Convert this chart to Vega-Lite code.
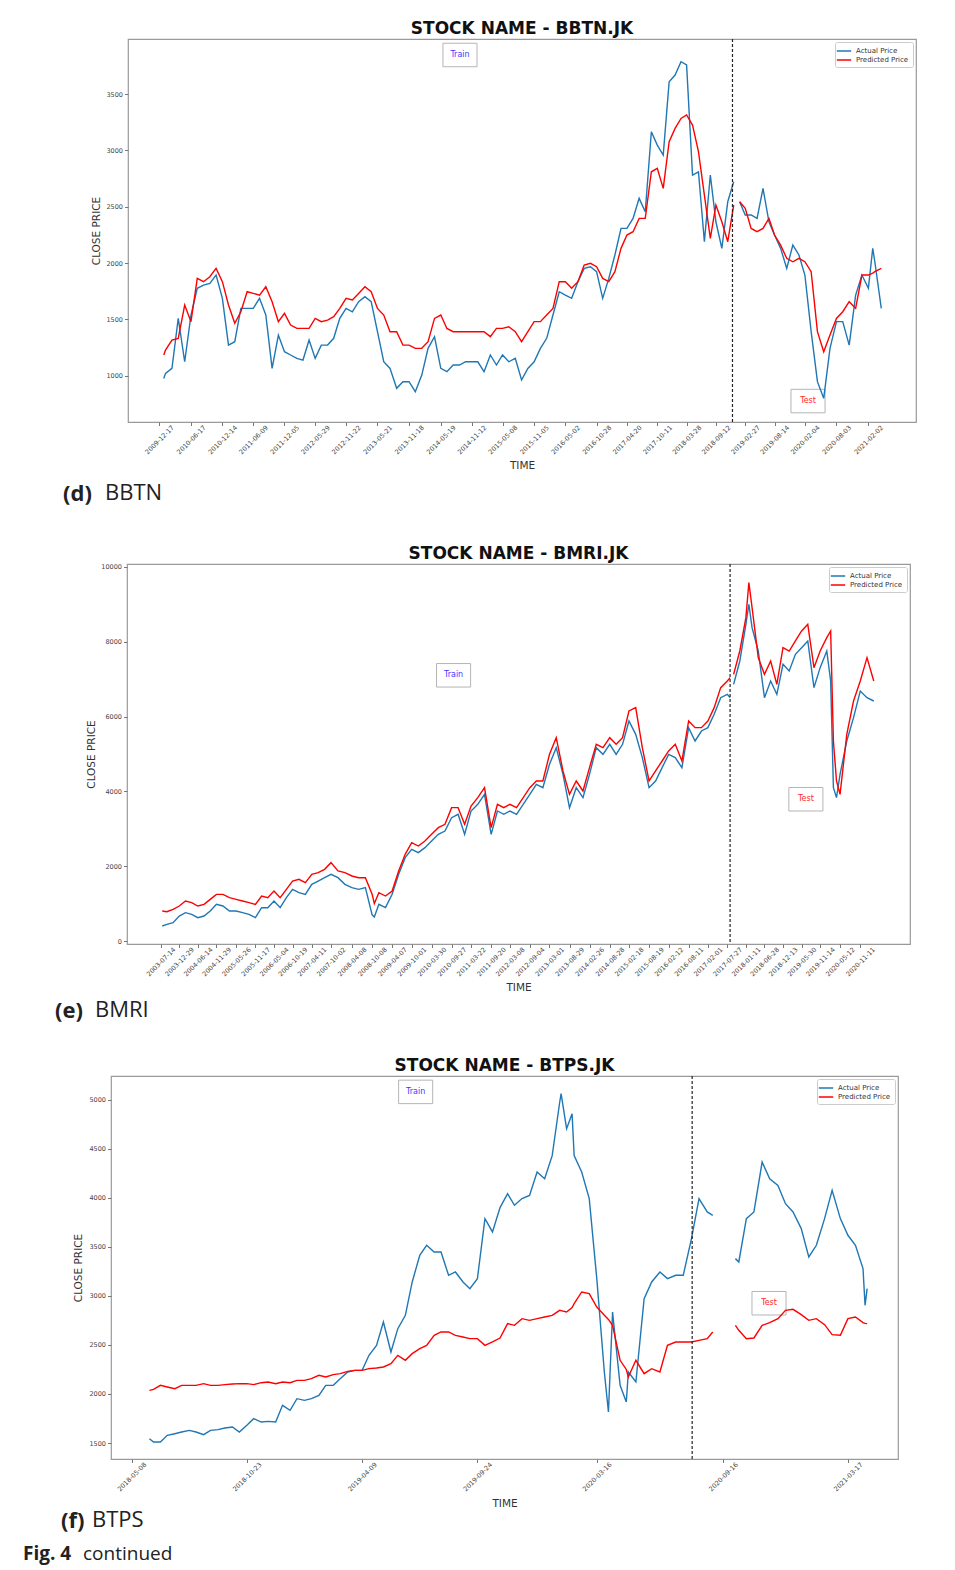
{
"$schema": "https://vega.github.io/schema/vega-lite/v6.json",
"background": "white",
"padding": {"left": 23, "top": 19, "right": 5, "bottom": 3},
"config": {
  "font": "DejaVu Sans",
  "view": {"stroke": "#9a9a9a", "strokeWidth": 1.2},
  "axis": {"labelFontSize": 6.5, "labelColor": "#444", "labelFont": "DejaVu Sans", "tickColor": "#777", "tickSize": 3.5, "domain": false, "grid": false, "titleFontSize": 10.5, "titleFontWeight": "normal", "titleColor": "#333", "titleFont": "DejaVu Sans"},
  "title": {"font": "DejaVu Sans", "fontSize": 17, "fontWeight": "bold", "color": "#111"}
},
"datasets": {
  "notes": [
    {"panel": "d", "label": "Train", "date": "2014-09-06", "price": 3848},
    {"panel": "d", "label": "Test", "date": "2020-02-22", "price": 775},
    {"panel": "e", "label": "Train", "date": "2010-10-15", "price": 7104},
    {"panel": "e", "label": "Test", "date": "2019-07-08", "price": 3790},
    {"panel": "f", "label": "Train", "date": "2019-06-26", "price": 5080},
    {"panel": "f", "label": "Test", "date": "2020-11-22", "price": 2925}
  ],
  "bbtn": [
    {"date":"2010-01-12","seg":1,"Actual Price":976,"Predicted Price":1184},
    {"date":"2010-01-22","seg":1,"Actual Price":1021,"Predicted Price":1228},
    {"date":"2010-02-28","seg":1,"Actual Price":1065,"Predicted Price":1317},
    {"date":"2010-04-05","seg":1,"Actual Price":1509,"Predicted Price":1332},
    {"date":"2010-05-12","seg":1,"Actual Price":1124,"Predicted Price":1628},
    {"date":"2010-06-17","seg":1,"Actual Price":1539,"Predicted Price":1480},
    {"date":"2010-07-23","seg":1,"Actual Price":1776,"Predicted Price":1864},
    {"date":"2010-08-28","seg":1,"Actual Price":1805,"Predicted Price":1835},
    {"date":"2010-10-03","seg":1,"Actual Price":1820,"Predicted Price":1879},
    {"date":"2010-11-08","seg":1,"Actual Price":1894,"Predicted Price":1953},
    {"date":"2010-12-14","seg":1,"Actual Price":1687,"Predicted Price":1835},
    {"date":"2011-01-18","seg":1,"Actual Price":1272,"Predicted Price":1628},
    {"date":"2011-02-23","seg":1,"Actual Price":1302,"Predicted Price":1465},
    {"date":"2011-03-30","seg":1,"Actual Price":1598,"Predicted Price":1568},
    {"date":"2011-05-05","seg":1,"Actual Price":1598,"Predicted Price":1746},
    {"date":"2011-06-09","seg":1,"Actual Price":1598,"Predicted Price":1731},
    {"date":"2011-07-15","seg":1,"Actual Price":1687,"Predicted Price":1716},
    {"date":"2011-08-20","seg":1,"Actual Price":1539,"Predicted Price":1790},
    {"date":"2011-09-25","seg":1,"Actual Price":1065,"Predicted Price":1657},
    {"date":"2011-10-31","seg":1,"Actual Price":1361,"Predicted Price":1480},
    {"date":"2011-12-05","seg":1,"Actual Price":1213,"Predicted Price":1554},
    {"date":"2012-01-09","seg":1,"Actual Price":1184,"Predicted Price":1450},
    {"date":"2012-02-14","seg":1,"Actual Price":1154,"Predicted Price":1420},
    {"date":"2012-03-20","seg":1,"Actual Price":1139,"Predicted Price":1420},
    {"date":"2012-04-24","seg":1,"Actual Price":1317,"Predicted Price":1420},
    {"date":"2012-05-29","seg":1,"Actual Price":1154,"Predicted Price":1509},
    {"date":"2012-07-03","seg":1,"Actual Price":1272,"Predicted Price":1480},
    {"date":"2012-08-08","seg":1,"Actual Price":1272,"Predicted Price":1494},
    {"date":"2012-09-12","seg":1,"Actual Price":1332,"Predicted Price":1524},
    {"date":"2012-10-17","seg":1,"Actual Price":1509,"Predicted Price":1598},
    {"date":"2012-11-22","seg":1,"Actual Price":1598,"Predicted Price":1687},
    {"date":"2012-12-28","seg":1,"Actual Price":1568,"Predicted Price":1672},
    {"date":"2013-02-02","seg":1,"Actual Price":1657,"Predicted Price":1731},
    {"date":"2013-03-10","seg":1,"Actual Price":1702,"Predicted Price":1790},
    {"date":"2013-04-15","seg":1,"Actual Price":1657,"Predicted Price":1746},
    {"date":"2013-05-21","seg":1,"Actual Price":1391,"Predicted Price":1598},
    {"date":"2013-06-26","seg":1,"Actual Price":1124,"Predicted Price":1539},
    {"date":"2013-08-01","seg":1,"Actual Price":1065,"Predicted Price":1391},
    {"date":"2013-09-08","seg":1,"Actual Price":888,"Predicted Price":1391},
    {"date":"2013-10-14","seg":1,"Actual Price":947,"Predicted Price":1272},
    {"date":"2013-11-18","seg":1,"Actual Price":947,"Predicted Price":1272},
    {"date":"2013-12-24","seg":1,"Actual Price":858,"Predicted Price":1243},
    {"date":"2014-01-30","seg":1,"Actual Price":1006,"Predicted Price":1243},
    {"date":"2014-03-07","seg":1,"Actual Price":1243,"Predicted Price":1302},
    {"date":"2014-04-13","seg":1,"Actual Price":1346,"Predicted Price":1509},
    {"date":"2014-05-19","seg":1,"Actual Price":1065,"Predicted Price":1539},
    {"date":"2014-06-23","seg":1,"Actual Price":1036,"Predicted Price":1420},
    {"date":"2014-07-29","seg":1,"Actual Price":1095,"Predicted Price":1391},
    {"date":"2014-09-03","seg":1,"Actual Price":1095,"Predicted Price":1391},
    {"date":"2014-10-08","seg":1,"Actual Price":1124,"Predicted Price":1391},
    {"date":"2014-11-12","seg":1,"Actual Price":1124,"Predicted Price":1391},
    {"date":"2014-12-17","seg":1,"Actual Price":1124,"Predicted Price":1391},
    {"date":"2015-01-22","seg":1,"Actual Price":1036,"Predicted Price":1391},
    {"date":"2015-02-27","seg":1,"Actual Price":1184,"Predicted Price":1347},
    {"date":"2015-04-03","seg":1,"Actual Price":1095,"Predicted Price":1420},
    {"date":"2015-05-08","seg":1,"Actual Price":1184,"Predicted Price":1420},
    {"date":"2015-06-13","seg":1,"Actual Price":1124,"Predicted Price":1435},
    {"date":"2015-07-20","seg":1,"Actual Price":1154,"Predicted Price":1391},
    {"date":"2015-08-25","seg":1,"Actual Price":962,"Predicted Price":1302},
    {"date":"2015-09-30","seg":1,"Actual Price":1065,"Predicted Price":1391},
    {"date":"2015-11-05","seg":1,"Actual Price":1124,"Predicted Price":1480},
    {"date":"2015-12-11","seg":1,"Actual Price":1243,"Predicted Price":1480},
    {"date":"2016-01-16","seg":1,"Actual Price":1332,"Predicted Price":1539},
    {"date":"2016-02-21","seg":1,"Actual Price":1539,"Predicted Price":1598},
    {"date":"2016-03-28","seg":1,"Actual Price":1746,"Predicted Price":1835},
    {"date":"2016-05-02","seg":1,"Actual Price":1716,"Predicted Price":1835},
    {"date":"2016-06-07","seg":1,"Actual Price":1687,"Predicted Price":1776},
    {"date":"2016-07-13","seg":1,"Actual Price":1835,"Predicted Price":1835},
    {"date":"2016-08-18","seg":1,"Actual Price":1953,"Predicted Price":1983},
    {"date":"2016-09-23","seg":1,"Actual Price":1968,"Predicted Price":1998},
    {"date":"2016-10-28","seg":1,"Actual Price":1924,"Predicted Price":1968},
    {"date":"2016-12-02","seg":1,"Actual Price":1687,"Predicted Price":1864},
    {"date":"2017-01-06","seg":1,"Actual Price":1864,"Predicted Price":1835},
    {"date":"2017-02-10","seg":1,"Actual Price":2072,"Predicted Price":1924},
    {"date":"2017-03-17","seg":1,"Actual Price":2308,"Predicted Price":2131},
    {"date":"2017-04-20","seg":1,"Actual Price":2308,"Predicted Price":2249},
    {"date":"2017-05-25","seg":1,"Actual Price":2397,"Predicted Price":2279},
    {"date":"2017-06-29","seg":1,"Actual Price":2575,"Predicted Price":2397},
    {"date":"2017-08-03","seg":1,"Actual Price":2456,"Predicted Price":2397},
    {"date":"2017-09-07","seg":1,"Actual Price":3167,"Predicted Price":2811},
    {"date":"2017-10-11","seg":1,"Actual Price":3048,"Predicted Price":2841},
    {"date":"2017-11-14","seg":1,"Actual Price":2960,"Predicted Price":2664},
    {"date":"2017-12-18","seg":1,"Actual Price":3611,"Predicted Price":3078},
    {"date":"2018-01-21","seg":1,"Actual Price":3670,"Predicted Price":3196},
    {"date":"2018-02-24","seg":1,"Actual Price":3788,"Predicted Price":3285},
    {"date":"2018-03-28","seg":1,"Actual Price":3759,"Predicted Price":3315},
    {"date":"2018-05-01","seg":1,"Actual Price":2782,"Predicted Price":3226},
    {"date":"2018-06-04","seg":1,"Actual Price":2811,"Predicted Price":2990},
    {"date":"2018-07-08","seg":1,"Actual Price":2190,"Predicted Price":2604},
    {"date":"2018-08-11","seg":1,"Actual Price":2782,"Predicted Price":2219},
    {"date":"2018-09-12","seg":1,"Actual Price":2367,"Predicted Price":2515},
    {"date":"2018-10-16","seg":1,"Actual Price":2131,"Predicted Price":2367},
    {"date":"2018-11-19","seg":1,"Actual Price":2545,"Predicted Price":2190},
    {"date":"2018-12-23","seg":1,"Actual Price":2723,"Predicted Price":2515},
    {"date":"2019-01-26","seg":2,"Actual Price":2545,"Predicted Price":2545},
    {"date":"2019-02-27","seg":2,"Actual Price":2427,"Predicted Price":2486},
    {"date":"2019-04-02","seg":2,"Actual Price":2427,"Predicted Price":2308},
    {"date":"2019-05-06","seg":2,"Actual Price":2397,"Predicted Price":2279},
    {"date":"2019-06-09","seg":2,"Actual Price":2664,"Predicted Price":2308},
    {"date":"2019-07-13","seg":2,"Actual Price":2367,"Predicted Price":2397},
    {"date":"2019-08-14","seg":2,"Actual Price":2249,"Predicted Price":2249},
    {"date":"2019-09-18","seg":2,"Actual Price":2131,"Predicted Price":2160},
    {"date":"2019-10-23","seg":2,"Actual Price":1953,"Predicted Price":2042},
    {"date":"2019-11-27","seg":2,"Actual Price":2160,"Predicted Price":2012},
    {"date":"2020-01-01","seg":2,"Actual Price":2072,"Predicted Price":2042},
    {"date":"2020-02-04","seg":2,"Actual Price":1894,"Predicted Price":2012},
    {"date":"2020-03-11","seg":2,"Actual Price":1391,"Predicted Price":1924},
    {"date":"2020-04-16","seg":2,"Actual Price":947,"Predicted Price":1391},
    {"date":"2020-05-22","seg":2,"Actual Price":799,"Predicted Price":1213},
    {"date":"2020-06-27","seg":2,"Actual Price":1243,"Predicted Price":1361},
    {"date":"2020-08-03","seg":2,"Actual Price":1480,"Predicted Price":1509},
    {"date":"2020-09-08","seg":2,"Actual Price":1480,"Predicted Price":1568},
    {"date":"2020-10-15","seg":2,"Actual Price":1272,"Predicted Price":1657},
    {"date":"2020-11-21","seg":2,"Actual Price":1716,"Predicted Price":1598},
    {"date":"2020-12-27","seg":2,"Actual Price":1894,"Predicted Price":1894},
    {"date":"2021-02-02","seg":2,"Actual Price":1776,"Predicted Price":1894},
    {"date":"2021-02-27","seg":2,"Actual Price":2131,"Predicted Price":1910},
    {"date":"2021-03-11","seg":2,"Actual Price":2012,"Predicted Price":1924},
    {"date":"2021-04-17","seg":2,"Actual Price":1598,"Predicted Price":1953}
  ],
  "bmri": [
    {"date":"2003-07-28","seg":1,"Actual Price":401,"Predicted Price":802},
    {"date":"2003-09-08","seg":1,"Actual Price":446,"Predicted Price":784},
    {"date":"2003-11-03","seg":1,"Actual Price":490,"Predicted Price":847},
    {"date":"2003-12-29","seg":1,"Actual Price":668,"Predicted Price":936},
    {"date":"2004-02-23","seg":1,"Actual Price":758,"Predicted Price":1070},
    {"date":"2004-04-19","seg":1,"Actual Price":713,"Predicted Price":1025},
    {"date":"2004-06-14","seg":1,"Actual Price":624,"Predicted Price":936},
    {"date":"2004-08-09","seg":1,"Actual Price":668,"Predicted Price":980},
    {"date":"2004-10-04","seg":1,"Actual Price":802,"Predicted Price":1114},
    {"date":"2004-11-29","seg":1,"Actual Price":980,"Predicted Price":1248},
    {"date":"2005-01-27","seg":1,"Actual Price":936,"Predicted Price":1248},
    {"date":"2005-03-27","seg":1,"Actual Price":802,"Predicted Price":1159},
    {"date":"2005-05-26","seg":1,"Actual Price":802,"Predicted Price":1114},
    {"date":"2005-07-24","seg":1,"Actual Price":758,"Predicted Price":1070},
    {"date":"2005-09-20","seg":1,"Actual Price":713,"Predicted Price":1025},
    {"date":"2005-11-17","seg":1,"Actual Price":624,"Predicted Price":980},
    {"date":"2006-01-12","seg":1,"Actual Price":891,"Predicted Price":1203},
    {"date":"2006-03-09","seg":1,"Actual Price":891,"Predicted Price":1159},
    {"date":"2006-05-04","seg":1,"Actual Price":1070,"Predicted Price":1337},
    {"date":"2006-06-29","seg":1,"Actual Price":891,"Predicted Price":1159},
    {"date":"2006-08-24","seg":1,"Actual Price":1159,"Predicted Price":1381},
    {"date":"2006-10-19","seg":1,"Actual Price":1381,"Predicted Price":1604},
    {"date":"2006-12-16","seg":1,"Actual Price":1292,"Predicted Price":1649},
    {"date":"2007-02-12","seg":1,"Actual Price":1248,"Predicted Price":1560},
    {"date":"2007-04-11","seg":1,"Actual Price":1515,"Predicted Price":1783},
    {"date":"2007-06-08","seg":1,"Actual Price":1604,"Predicted Price":1827},
    {"date":"2007-08-05","seg":1,"Actual Price":1693,"Predicted Price":1916},
    {"date":"2007-10-02","seg":1,"Actual Price":1783,"Predicted Price":2095},
    {"date":"2007-12-04","seg":1,"Actual Price":1693,"Predicted Price":1872},
    {"date":"2008-02-05","seg":1,"Actual Price":1515,"Predicted Price":1827},
    {"date":"2008-04-08","seg":1,"Actual Price":1426,"Predicted Price":1738},
    {"date":"2008-06-08","seg":1,"Actual Price":1381,"Predicted Price":1693},
    {"date":"2008-08-08","seg":1,"Actual Price":1426,"Predicted Price":1693},
    {"date":"2008-10-08","seg":1,"Actual Price":700,"Predicted Price":1250},
    {"date":"2008-10-28","seg":1,"Actual Price":640,"Predicted Price":1000},
    {"date":"2008-12-08","seg":1,"Actual Price":980,"Predicted Price":1292},
    {"date":"2009-02-06","seg":1,"Actual Price":891,"Predicted Price":1203},
    {"date":"2009-04-07","seg":1,"Actual Price":1248,"Predicted Price":1337},
    {"date":"2009-06-05","seg":1,"Actual Price":1783,"Predicted Price":1872},
    {"date":"2009-08-03","seg":1,"Actual Price":2228,"Predicted Price":2318},
    {"date":"2009-10-01","seg":1,"Actual Price":2451,"Predicted Price":2629},
    {"date":"2009-11-30","seg":1,"Actual Price":2362,"Predicted Price":2540},
    {"date":"2010-01-29","seg":1,"Actual Price":2496,"Predicted Price":2674},
    {"date":"2010-03-30","seg":1,"Actual Price":2674,"Predicted Price":2852},
    {"date":"2010-05-30","seg":1,"Actual Price":2852,"Predicted Price":3030},
    {"date":"2010-07-29","seg":1,"Actual Price":2941,"Predicted Price":3120},
    {"date":"2010-09-27","seg":1,"Actual Price":3298,"Predicted Price":3565},
    {"date":"2010-11-25","seg":1,"Actual Price":3387,"Predicted Price":3565},
    {"date":"2011-01-23","seg":1,"Actual Price":2852,"Predicted Price":3120},
    {"date":"2011-03-22","seg":1,"Actual Price":3476,"Predicted Price":3610},
    {"date":"2011-05-22","seg":1,"Actual Price":3654,"Predicted Price":3833},
    {"date":"2011-07-22","seg":1,"Actual Price":3922,"Predicted Price":4100},
    {"date":"2011-09-20","seg":1,"Actual Price":2852,"Predicted Price":3030},
    {"date":"2011-11-16","seg":1,"Actual Price":3476,"Predicted Price":3654},
    {"date":"2012-01-12","seg":1,"Actual Price":3387,"Predicted Price":3565},
    {"date":"2012-03-08","seg":1,"Actual Price":3476,"Predicted Price":3654},
    {"date":"2012-05-07","seg":1,"Actual Price":3387,"Predicted Price":3565},
    {"date":"2012-07-06","seg":1,"Actual Price":3654,"Predicted Price":3833},
    {"date":"2012-09-04","seg":1,"Actual Price":3922,"Predicted Price":4100},
    {"date":"2012-11-02","seg":1,"Actual Price":4189,"Predicted Price":4278},
    {"date":"2012-12-31","seg":1,"Actual Price":4100,"Predicted Price":4278},
    {"date":"2013-03-01","seg":1,"Actual Price":4724,"Predicted Price":4991},
    {"date":"2013-05-01","seg":1,"Actual Price":5170,"Predicted Price":5437},
    {"date":"2013-07-01","seg":1,"Actual Price":4456,"Predicted Price":4546},
    {"date":"2013-08-29","seg":1,"Actual Price":3565,"Predicted Price":3922},
    {"date":"2013-10-29","seg":1,"Actual Price":4100,"Predicted Price":4278},
    {"date":"2013-12-29","seg":1,"Actual Price":3833,"Predicted Price":4011},
    {"date":"2014-02-26","seg":1,"Actual Price":4456,"Predicted Price":4635},
    {"date":"2014-04-28","seg":1,"Actual Price":5170,"Predicted Price":5259},
    {"date":"2014-06-28","seg":1,"Actual Price":4991,"Predicted Price":5170},
    {"date":"2014-08-28","seg":1,"Actual Price":5259,"Predicted Price":5437},
    {"date":"2014-10-25","seg":1,"Actual Price":4991,"Predicted Price":5259},
    {"date":"2014-12-22","seg":1,"Actual Price":5259,"Predicted Price":5437},
    {"date":"2015-02-18","seg":1,"Actual Price":5883,"Predicted Price":6150},
    {"date":"2015-04-20","seg":1,"Actual Price":5526,"Predicted Price":6239},
    {"date":"2015-06-19","seg":1,"Actual Price":4902,"Predicted Price":5170},
    {"date":"2015-08-19","seg":1,"Actual Price":4100,"Predicted Price":4278},
    {"date":"2015-10-17","seg":1,"Actual Price":4278,"Predicted Price":4546},
    {"date":"2015-12-15","seg":1,"Actual Price":4635,"Predicted Price":4813},
    {"date":"2016-02-12","seg":1,"Actual Price":4991,"Predicted Price":5081},
    {"date":"2016-04-12","seg":1,"Actual Price":4902,"Predicted Price":5259},
    {"date":"2016-06-11","seg":1,"Actual Price":4635,"Predicted Price":4813},
    {"date":"2016-08-11","seg":1,"Actual Price":5704,"Predicted Price":5883},
    {"date":"2016-10-08","seg":1,"Actual Price":5348,"Predicted Price":5704},
    {"date":"2016-12-05","seg":1,"Actual Price":5615,"Predicted Price":5704},
    {"date":"2017-02-01","seg":1,"Actual Price":5704,"Predicted Price":5883},
    {"date":"2017-03-30","seg":1,"Actual Price":6061,"Predicted Price":6239},
    {"date":"2017-05-28","seg":1,"Actual Price":6506,"Predicted Price":6774},
    {"date":"2017-07-27","seg":1,"Actual Price":6595,"Predicted Price":6952},
    {"date":"2017-08-21","seg":1,"Actual Price":6506,"Predicted Price":7041},
    {"date":"2017-09-22","seg":2,"Actual Price":6863,"Predicted Price":7130},
    {"date":"2017-11-17","seg":2,"Actual Price":7487,"Predicted Price":7754},
    {"date":"2018-01-11","seg":2,"Actual Price":8467,"Predicted Price":8645},
    {"date":"2018-02-07","seg":2,"Actual Price":9004,"Predicted Price":9582},
    {"date":"2018-03-08","seg":2,"Actual Price":8378,"Predicted Price":8913},
    {"date":"2018-05-03","seg":2,"Actual Price":7754,"Predicted Price":7576},
    {"date":"2018-06-28","seg":2,"Actual Price":6506,"Predicted Price":7130},
    {"date":"2018-08-23","seg":2,"Actual Price":6952,"Predicted Price":7487},
    {"date":"2018-10-18","seg":2,"Actual Price":6595,"Predicted Price":6863},
    {"date":"2018-12-13","seg":2,"Actual Price":7398,"Predicted Price":7843},
    {"date":"2019-02-07","seg":2,"Actual Price":7220,"Predicted Price":7754},
    {"date":"2019-04-04","seg":2,"Actual Price":7665,"Predicted Price":8022},
    {"date":"2019-05-30","seg":2,"Actual Price":7843,"Predicted Price":8289},
    {"date":"2019-07-25","seg":2,"Actual Price":8022,"Predicted Price":8467},
    {"date":"2019-09-19","seg":2,"Actual Price":6774,"Predicted Price":7309},
    {"date":"2019-11-14","seg":2,"Actual Price":7309,"Predicted Price":7754},
    {"date":"2020-01-13","seg":2,"Actual Price":7754,"Predicted Price":8111},
    {"date":"2020-02-17","seg":2,"Actual Price":6952,"Predicted Price":8289},
    {"date":"2020-03-13","seg":2,"Actual Price":4100,"Predicted Price":5348},
    {"date":"2020-04-10","seg":2,"Actual Price":3833,"Predicted Price":4278},
    {"date":"2020-05-12","seg":2,"Actual Price":4456,"Predicted Price":3922},
    {"date":"2020-07-12","seg":2,"Actual Price":5348,"Predicted Price":5526},
    {"date":"2020-09-11","seg":2,"Actual Price":5972,"Predicted Price":6417},
    {"date":"2020-11-11","seg":2,"Actual Price":6684,"Predicted Price":6952},
    {"date":"2021-01-11","seg":2,"Actual Price":6506,"Predicted Price":7576},
    {"date":"2021-03-13","seg":2,"Actual Price":6417,"Predicted Price":6952}
  ],
  "btps": [
    {"date":"2018-06-03","seg":1,"Actual Price":1544,"Predicted Price":2037},
    {"date":"2018-06-09","seg":1,"Actual Price":1510,"Predicted Price":2047},
    {"date":"2018-06-19","seg":1,"Actual Price":1510,"Predicted Price":2088},
    {"date":"2018-06-29","seg":1,"Actual Price":1578,"Predicted Price":2071},
    {"date":"2018-07-10","seg":1,"Actual Price":1595,"Predicted Price":2054},
    {"date":"2018-07-20","seg":1,"Actual Price":1612,"Predicted Price":2088},
    {"date":"2018-07-31","seg":1,"Actual Price":1629,"Predicted Price":2088},
    {"date":"2018-08-10","seg":1,"Actual Price":1612,"Predicted Price":2088},
    {"date":"2018-08-21","seg":1,"Actual Price":1585,"Predicted Price":2105},
    {"date":"2018-08-31","seg":1,"Actual Price":1629,"Predicted Price":2088},
    {"date":"2018-09-11","seg":1,"Actual Price":1636,"Predicted Price":2088},
    {"date":"2018-09-21","seg":1,"Actual Price":1653,"Predicted Price":2095},
    {"date":"2018-10-02","seg":1,"Actual Price":1663,"Predicted Price":2102},
    {"date":"2018-10-12","seg":1,"Actual Price":1612,"Predicted Price":2105},
    {"date":"2018-10-23","seg":1,"Actual Price":1680,"Predicted Price":2105},
    {"date":"2018-11-02","seg":1,"Actual Price":1748,"Predicted Price":2095},
    {"date":"2018-11-13","seg":1,"Actual Price":1714,"Predicted Price":2115},
    {"date":"2018-11-23","seg":1,"Actual Price":1721,"Predicted Price":2122},
    {"date":"2018-12-04","seg":1,"Actual Price":1714,"Predicted Price":2105},
    {"date":"2018-12-14","seg":1,"Actual Price":1884,"Predicted Price":2122},
    {"date":"2018-12-25","seg":1,"Actual Price":1833,"Predicted Price":2115},
    {"date":"2019-01-04","seg":1,"Actual Price":1952,"Predicted Price":2139},
    {"date":"2019-01-15","seg":1,"Actual Price":1935,"Predicted Price":2139},
    {"date":"2019-01-25","seg":1,"Actual Price":1952,"Predicted Price":2156},
    {"date":"2019-02-05","seg":1,"Actual Price":1986,"Predicted Price":2190},
    {"date":"2019-02-15","seg":1,"Actual Price":2088,"Predicted Price":2173},
    {"date":"2019-02-26","seg":1,"Actual Price":2088,"Predicted Price":2197},
    {"date":"2019-03-08","seg":1,"Actual Price":2156,"Predicted Price":2207},
    {"date":"2019-03-19","seg":1,"Actual Price":2224,"Predicted Price":2231},
    {"date":"2019-03-29","seg":1,"Actual Price":2241,"Predicted Price":2241},
    {"date":"2019-04-09","seg":1,"Actual Price":2241,"Predicted Price":2241},
    {"date":"2019-04-19","seg":1,"Actual Price":2394,"Predicted Price":2258},
    {"date":"2019-04-30","seg":1,"Actual Price":2496,"Predicted Price":2265},
    {"date":"2019-05-10","seg":1,"Actual Price":2734,"Predicted Price":2275},
    {"date":"2019-05-21","seg":1,"Actual Price":2428,"Predicted Price":2309},
    {"date":"2019-05-31","seg":1,"Actual Price":2666,"Predicted Price":2394},
    {"date":"2019-06-11","seg":1,"Actual Price":2802,"Predicted Price":2343},
    {"date":"2019-06-21","seg":1,"Actual Price":3142,"Predicted Price":2411},
    {"date":"2019-07-02","seg":1,"Actual Price":3414,"Predicted Price":2462},
    {"date":"2019-07-12","seg":1,"Actual Price":3516,"Predicted Price":2496},
    {"date":"2019-07-23","seg":1,"Actual Price":3448,"Predicted Price":2598},
    {"date":"2019-08-02","seg":1,"Actual Price":3448,"Predicted Price":2632},
    {"date":"2019-08-13","seg":1,"Actual Price":3210,"Predicted Price":2632},
    {"date":"2019-08-23","seg":1,"Actual Price":3244,"Predicted Price":2598},
    {"date":"2019-09-03","seg":1,"Actual Price":3142,"Predicted Price":2581},
    {"date":"2019-09-13","seg":1,"Actual Price":3074,"Predicted Price":2564},
    {"date":"2019-09-24","seg":1,"Actual Price":3176,"Predicted Price":2564},
    {"date":"2019-10-05","seg":1,"Actual Price":3787,"Predicted Price":2496},
    {"date":"2019-10-16","seg":1,"Actual Price":3652,"Predicted Price":2530},
    {"date":"2019-10-27","seg":1,"Actual Price":3900,"Predicted Price":2570},
    {"date":"2019-11-07","seg":1,"Actual Price":4042,"Predicted Price":2717},
    {"date":"2019-11-17","seg":1,"Actual Price":3924,"Predicted Price":2700},
    {"date":"2019-11-28","seg":1,"Actual Price":3992,"Predicted Price":2768},
    {"date":"2019-12-09","seg":1,"Actual Price":4025,"Predicted Price":2751},
    {"date":"2019-12-20","seg":1,"Actual Price":4263,"Predicted Price":2768},
    {"date":"2019-12-31","seg":1,"Actual Price":4195,"Predicted Price":2785},
    {"date":"2020-01-11","seg":1,"Actual Price":4430,"Predicted Price":2802},
    {"date":"2020-01-22","seg":1,"Actual Price":4977,"Predicted Price":2853},
    {"date":"2020-01-24","seg":1,"Actual Price":5062,"Predicted Price":2850},
    {"date":"2020-02-01","seg":1,"Actual Price":4705,"Predicted Price":2836},
    {"date":"2020-02-09","seg":1,"Actual Price":4858,"Predicted Price":2880},
    {"date":"2020-02-12","seg":1,"Actual Price":4430,"Predicted Price":2921},
    {"date":"2020-02-23","seg":1,"Actual Price":4263,"Predicted Price":3040},
    {"date":"2020-03-05","seg":1,"Actual Price":3992,"Predicted Price":3023},
    {"date":"2020-03-16","seg":1,"Actual Price":3176,"Predicted Price":2887},
    {"date":"2020-03-27","seg":1,"Actual Price":2224,"Predicted Price":2802},
    {"date":"2020-04-02","seg":1,"Actual Price":1816,"Predicted Price":2760},
    {"date":"2020-04-08","seg":1,"Actual Price":2836,"Predicted Price":2700},
    {"date":"2020-04-19","seg":1,"Actual Price":2088,"Predicted Price":2343},
    {"date":"2020-04-28","seg":1,"Actual Price":1918,"Predicted Price":2250},
    {"date":"2020-05-01","seg":1,"Actual Price":2224,"Predicted Price":2173},
    {"date":"2020-05-12","seg":1,"Actual Price":2122,"Predicted Price":2343},
    {"date":"2020-05-24","seg":1,"Actual Price":2972,"Predicted Price":2207},
    {"date":"2020-06-04","seg":1,"Actual Price":3142,"Predicted Price":2258},
    {"date":"2020-06-16","seg":1,"Actual Price":3244,"Predicted Price":2224},
    {"date":"2020-06-27","seg":1,"Actual Price":3176,"Predicted Price":2496},
    {"date":"2020-07-09","seg":1,"Actual Price":3210,"Predicted Price":2530},
    {"date":"2020-07-20","seg":1,"Actual Price":3210,"Predicted Price":2530},
    {"date":"2020-08-01","seg":1,"Actual Price":3584,"Predicted Price":2530},
    {"date":"2020-08-12","seg":1,"Actual Price":3991,"Predicted Price":2547},
    {"date":"2020-08-24","seg":1,"Actual Price":3856,"Predicted Price":2564},
    {"date":"2020-09-01","seg":1,"Actual Price":3821,"Predicted Price":2632},
    {"date":"2020-10-04","seg":2,"Actual Price":3380,"Predicted Price":2700},
    {"date":"2020-10-09","seg":2,"Actual Price":3346,"Predicted Price":2649},
    {"date":"2020-10-20","seg":2,"Actual Price":3788,"Predicted Price":2564},
    {"date":"2020-10-31","seg":2,"Actual Price":3856,"Predicted Price":2571},
    {"date":"2020-11-12","seg":2,"Actual Price":4365,"Predicted Price":2700},
    {"date":"2020-11-23","seg":2,"Actual Price":4195,"Predicted Price":2727},
    {"date":"2020-12-05","seg":2,"Actual Price":4127,"Predicted Price":2768},
    {"date":"2020-12-16","seg":2,"Actual Price":3940,"Predicted Price":2853},
    {"date":"2020-12-27","seg":2,"Actual Price":3856,"Predicted Price":2863},
    {"date":"2021-01-08","seg":2,"Actual Price":3686,"Predicted Price":2809},
    {"date":"2021-01-19","seg":2,"Actual Price":3397,"Predicted Price":2751},
    {"date":"2021-01-30","seg":2,"Actual Price":3516,"Predicted Price":2768},
    {"date":"2021-02-11","seg":2,"Actual Price":3788,"Predicted Price":2707},
    {"date":"2021-02-22","seg":2,"Actual Price":4076,"Predicted Price":2605},
    {"date":"2021-03-06","seg":2,"Actual Price":3788,"Predicted Price":2598},
    {"date":"2021-03-17","seg":2,"Actual Price":3618,"Predicted Price":2768},
    {"date":"2021-03-28","seg":2,"Actual Price":3516,"Predicted Price":2785},
    {"date":"2021-04-08","seg":2,"Actual Price":3278,"Predicted Price":2727},
    {"date":"2021-04-11","seg":2,"Actual Price":2904,"Predicted Price":2720},
    {"date":"2021-04-14","seg":2,"Actual Price":3074,"Predicted Price":2717}
  ]
},
"title": {"text": "continued", "orient": "bottom", "anchor": "start", "font": "Open Sans", "fontSize": 19, "fontWeight": "normal", "color": "#222", "offset": 0, "dx": 60, "dy": -19},
"resolve": {"scale": {"color": "independent"}, "legend": {"color": "independent"}},
"vconcat": [{
  "title": {"text": "Fig. 4", "orient": "bottom", "anchor": "start", "font": "Open Sans", "fontSize": 19, "fontWeight": "bold", "color": "#222", "offset": 13, "dx": -32},
  "spacing": 33,
  "resolve": {"scale": {"color": "independent"}, "legend": {"color": "independent"}},
  "vconcat": [
    {
      "title": {"text": ["BBTN", ""], "lineHeight": 6, "orient": "bottom", "anchor": "start", "font": "Open Sans", "fontSize": 22, "fontWeight": "normal", "color": "#222", "offset": 0, "dx": 42, "dy": -22},
      "resolve": {"scale": {"color": "independent"}, "legend": {"color": "independent"}},
      "vconcat": [{
        "title": {"text": "(d)", "orient": "bottom", "anchor": "start", "font": "Open Sans", "fontSize": 22, "fontWeight": "bold", "color": "#222", "offset": 13, "dx": -8},
        "resolve": {"scale": {"color": "independent"}, "legend": {"color": "independent"}},
        "spacing": 0,
        "hconcat": [
          {"width": 19, "height": 10, "data": {"values": []}, "mark": "point", "view": {"stroke": null}},
          {
          "width": 788, "height": 383,
          "title": {"text": "STOCK NAME - BBTN.JK", "frame": "group", "offset": 0},
          "encoding": {"x": {"field": "date", "type": "temporal", "scale": {"type": "utc", "domain": ["2009-06-21", "2021-11-02"]},
            "axis": {"values": ["2009-12-17","2010-06-17","2010-12-14","2011-06-09","2011-12-05","2012-05-29","2012-11-22","2013-05-21","2013-11-18","2014-05-19","2014-11-12","2015-05-08","2015-11-05","2016-05-02","2016-10-28","2017-04-20","2017-10-11","2018-03-28","2018-09-12","2019-02-27","2019-08-14","2020-02-04","2020-08-03","2021-02-02"],
              "format": "%Y-%m-%d", "labelAngle": -45, "labelAlign": "center", "labelBaseline": "middle", "labelPadding": 14, "labelOverlap": false, "labelFlush": false, "title": "TIME", "titlePadding": 5}}},
          "layer": [
            {"data": {"name": "notes"}, "transform": [{"filter": "datum.panel == 'd'"}],
             "mark": {"type": "point", "shape": "M-1.45,-1H1.45V1H-1.45Z", "size": 552, "filled": false, "color": "#b5b5b5", "strokeWidth": 1, "opacity": 1},
             "encoding": {"y": {"field": "price", "type": "quantitative", "scale": {"domain": [589, 3990], "nice": false, "zero": false},
               "axis": {"values": [1000, 1500, 2000, 2500, 3000, 3500], "format": "d", "title": "CLOSE PRICE", "titlePadding": 6, "minExtent": 21, "maxExtent": 21, "labelPadding": 2}}}},
            {"data": {"name": "bbtn"}, "transform": [{"fold": ["Actual Price", "Predicted Price"], "as": ["series", "price"]}],
             "mark": {"type": "line", "strokeWidth": 1.4},
             "encoding": {
               "y": {"field": "price", "type": "quantitative", "scale": {"domain": [589, 3990], "nice": false, "zero": false},
                 "axis": {"values": [1000, 1500, 2000, 2500, 3000, 3500], "format": "d", "title": "CLOSE PRICE", "titlePadding": 6, "minExtent": 21, "maxExtent": 21, "labelPadding": 2}},
               "color": {"field": "series", "type": "nominal", "scale": {"domain": ["Actual Price", "Predicted Price"], "range": ["#1f77b4", "#ff0000"]},
                 "legend": {"orient": "top-right", "offset": 3, "title": null, "labelFontSize": 7, "labelFont": "DejaVu Sans", "labelColor": "#333", "symbolType": "M-1.8,0H1.8", "symbolSize": 64, "symbolStrokeWidth": 1.5, "strokeColor": "#cccccc", "fillColor": "white", "padding": 4, "rowPadding": 1, "cornerRadius": 2, "labelOffset": 7}},
               "detail": {"field": "seg", "type": "nominal"}}},
            {"data": {"values": [{"date": "2018-12-16"}]}, "mark": {"type": "rule", "color": "#222", "strokeDash": [3, 2], "strokeWidth": 1.2}, "encoding": {}},
            {"data": {"name": "notes"}, "transform": [{"filter": "datum.panel == 'd'"}],
             "mark": {"type": "text", "fontSize": 8, "font": "DejaVu Sans"},
             "encoding": {"y": {"field": "price", "type": "quantitative", "scale": {"domain": [589, 3990], "nice": false, "zero": false},
               "axis": {"values": [1000, 1500, 2000, 2500, 3000, 3500], "format": "d", "title": "CLOSE PRICE", "titlePadding": 6, "minExtent": 21, "maxExtent": 21, "labelPadding": 2}},
               "text": {"field": "label"},
               "fill": {"field": "label", "type": "nominal", "scale": {"domain": ["Train", "Test"], "range": ["#3b3bff", "#ff2a2a"]}, "legend": null}}}
          ]
        }]
      }]
    },
    {
      "title": {"text": "BMRI", "orient": "bottom", "anchor": "start", "font": "Open Sans", "fontSize": 22, "fontWeight": "normal", "color": "#222", "offset": 0, "dx": 40, "dy": -22},
      "resolve": {"scale": {"color": "independent"}, "legend": {"color": "independent"}},
      "vconcat": [{
        "title": {"text": "(e)", "orient": "bottom", "anchor": "start", "font": "Open Sans", "fontSize": 22, "fontWeight": "bold", "color": "#222", "offset": 8, "dx": -16},
        "resolve": {"scale": {"color": "independent"}, "legend": {"color": "independent"}},
        "spacing": 0,
        "hconcat": [
          {"width": 14, "height": 10, "data": {"values": []}, "mark": "point", "view": {"stroke": null}},
          {
          "width": 783, "height": 380,
          "title": {"text": "STOCK NAME - BMRI.JK", "frame": "group", "offset": 0},
          "encoding": {"x": {"field": "date", "type": "temporal", "scale": {"type": "utc", "domain": ["2002-09-12", "2022-02-04"]},
            "axis": {"values": ["2003-07-14","2003-12-29","2004-06-14","2004-11-29","2005-05-26","2005-11-17","2006-05-04","2006-10-19","2007-04-11","2007-10-02","2008-04-08","2008-10-08","2009-04-07","2009-10-01","2010-03-30","2010-09-27","2011-03-22","2011-09-20","2012-03-08","2012-09-04","2013-03-01","2013-08-29","2014-02-26","2014-08-28","2015-02-18","2015-08-19","2016-02-12","2016-08-11","2017-02-01","2017-07-27","2018-01-11","2018-06-28","2018-12-13","2019-05-30","2019-11-14","2020-05-12","2020-11-11"],
              "format": "%Y-%m-%d", "labelAngle": -45, "labelAlign": "center", "labelBaseline": "middle", "labelPadding": 14, "labelOverlap": false, "labelFlush": false, "title": "TIME", "titlePadding": 5}}},
          "layer": [
            {"data": {"name": "notes"}, "transform": [{"filter": "datum.panel == 'e'"}],
             "mark": {"type": "point", "shape": "M-1.45,-1H1.45V1H-1.45Z", "size": 552, "filled": false, "color": "#b5b5b5", "strokeWidth": 1, "opacity": 1},
             "encoding": {"y": {"field": "price", "type": "quantitative", "scale": {"domain": [-80, 10080], "nice": false, "zero": false},
               "axis": {"values": [0, 2000, 4000, 6000, 8000, 10000], "format": "d", "title": "CLOSE PRICE", "titlePadding": 3, "minExtent": 28, "maxExtent": 28, "labelPadding": 2}}}},
            {"data": {"name": "bmri"}, "transform": [{"fold": ["Actual Price", "Predicted Price"], "as": ["series", "price"]}],
             "mark": {"type": "line", "strokeWidth": 1.4},
             "encoding": {
               "y": {"field": "price", "type": "quantitative", "scale": {"domain": [-80, 10080], "nice": false, "zero": false},
                 "axis": {"values": [0, 2000, 4000, 6000, 8000, 10000], "format": "d", "title": "CLOSE PRICE", "titlePadding": 3, "minExtent": 28, "maxExtent": 28, "labelPadding": 2}},
               "color": {"field": "series", "type": "nominal", "scale": {"domain": ["Actual Price", "Predicted Price"], "range": ["#1f77b4", "#ff0000"]},
                 "legend": {"orient": "top-right", "offset": 3, "title": null, "labelFontSize": 7, "labelFont": "DejaVu Sans", "labelColor": "#333", "symbolType": "M-1.8,0H1.8", "symbolSize": 64, "symbolStrokeWidth": 1.5, "strokeColor": "#cccccc", "fillColor": "white", "padding": 4, "rowPadding": 1, "cornerRadius": 2, "labelOffset": 7}},
               "detail": {"field": "seg", "type": "nominal"}}},
            {"data": {"values": [{"date": "2017-08-21"}]}, "mark": {"type": "rule", "color": "#222", "strokeDash": [3, 2], "strokeWidth": 1.2}, "encoding": {}},
            {"data": {"name": "notes"}, "transform": [{"filter": "datum.panel == 'e'"}],
             "mark": {"type": "text", "fontSize": 8, "font": "DejaVu Sans"},
             "encoding": {"y": {"field": "price", "type": "quantitative", "scale": {"domain": [-80, 10080], "nice": false, "zero": false},
               "axis": {"values": [0, 2000, 4000, 6000, 8000, 10000], "format": "d", "title": "CLOSE PRICE", "titlePadding": 3, "minExtent": 28, "maxExtent": 28, "labelPadding": 2}},
               "text": {"field": "label"},
               "fill": {"field": "label", "type": "nominal", "scale": {"domain": ["Train", "Test"], "range": ["#3b3bff", "#ff2a2a"]}, "legend": null}}}
          ]
        }]
      }]
    },
    {
      "title": {"text": "BTPS", "orient": "bottom", "anchor": "start", "font": "Open Sans", "fontSize": 22, "fontWeight": "normal", "color": "#222", "offset": 0, "dx": 31, "dy": -22},
      "resolve": {"scale": {"color": "independent"}, "legend": {"color": "independent"}},
      "vconcat": [{
        "title": {"text": "(f)", "orient": "bottom", "anchor": "start", "font": "Open Sans", "fontSize": 22, "fontWeight": "bold", "color": "#222", "offset": 2, "dx": -10},
        "resolve": {"scale": {"color": "independent"}, "legend": {"color": "independent"}},
        "spacing": 0,
        "hconcat": [
          {"width": 1, "height": 10, "data": {"values": []}, "mark": "point", "view": {"stroke": null}},
          {
          "width": 787, "height": 383,
          "title": {"text": "STOCK NAME - BTPS.JK", "frame": "group", "offset": 0},
          "encoding": {"x": {"field": "date", "type": "temporal", "scale": {"type": "utc", "domain": ["2018-04-08", "2021-05-29"]},
            "axis": {"values": ["2018-05-08","2018-10-23","2019-04-09","2019-09-24","2020-03-16","2020-09-16","2021-03-17"],
              "format": "%Y-%m-%d", "labelAngle": -45, "labelAlign": "center", "labelBaseline": "middle", "labelPadding": 14, "labelOverlap": false, "labelFlush": false, "title": "TIME", "titlePadding": 6}}},
          "layer": [
            {"data": {"name": "notes"}, "transform": [{"filter": "datum.panel == 'f'"}],
             "mark": {"type": "point", "shape": "M-1.45,-1H1.45V1H-1.45Z", "size": 552, "filled": false, "color": "#b5b5b5", "strokeWidth": 1, "opacity": 1},
             "encoding": {"y": {"field": "price", "type": "quantitative", "scale": {"domain": [1337, 5242], "nice": false, "zero": false},
               "axis": {"values": [1500, 2000, 2500, 3000, 3500, 4000, 4500, 5000], "format": "d", "title": "CLOSE PRICE", "titlePadding": 6, "minExtent": 22, "maxExtent": 22, "labelPadding": 2}}}},
            {"data": {"name": "btps"}, "transform": [{"fold": ["Actual Price", "Predicted Price"], "as": ["series", "price"]}],
             "mark": {"type": "line", "strokeWidth": 1.4},
             "encoding": {
               "y": {"field": "price", "type": "quantitative", "scale": {"domain": [1337, 5242], "nice": false, "zero": false},
                 "axis": {"values": [1500, 2000, 2500, 3000, 3500, 4000, 4500, 5000], "format": "d", "title": "CLOSE PRICE", "titlePadding": 6, "minExtent": 22, "maxExtent": 22, "labelPadding": 2}},
               "color": {"field": "series", "type": "nominal", "scale": {"domain": ["Actual Price", "Predicted Price"], "range": ["#1f77b4", "#ff0000"]},
                 "legend": {"orient": "top-right", "offset": 3, "title": null, "labelFontSize": 7, "labelFont": "DejaVu Sans", "labelColor": "#333", "symbolType": "M-1.8,0H1.8", "symbolSize": 64, "symbolStrokeWidth": 1.5, "strokeColor": "#cccccc", "fillColor": "white", "padding": 4, "rowPadding": 1, "cornerRadius": 2, "labelOffset": 7}},
               "detail": {"field": "seg", "type": "nominal"}}},
            {"data": {"values": [{"date": "2020-08-02"}]}, "mark": {"type": "rule", "color": "#222", "strokeDash": [3, 2], "strokeWidth": 1.2}, "encoding": {}},
            {"data": {"name": "notes"}, "transform": [{"filter": "datum.panel == 'f'"}],
             "mark": {"type": "text", "fontSize": 8, "font": "DejaVu Sans"},
             "encoding": {"y": {"field": "price", "type": "quantitative", "scale": {"domain": [1337, 5242], "nice": false, "zero": false},
               "axis": {"values": [1500, 2000, 2500, 3000, 3500, 4000, 4500, 5000], "format": "d", "title": "CLOSE PRICE", "titlePadding": 6, "minExtent": 22, "maxExtent": 22, "labelPadding": 2}},
               "text": {"field": "label"},
               "fill": {"field": "label", "type": "nominal", "scale": {"domain": ["Train", "Test"], "range": ["#3b3bff", "#ff2a2a"]}, "legend": null}}}
          ]
        }]
      }]
    }
  ]
}]
}
